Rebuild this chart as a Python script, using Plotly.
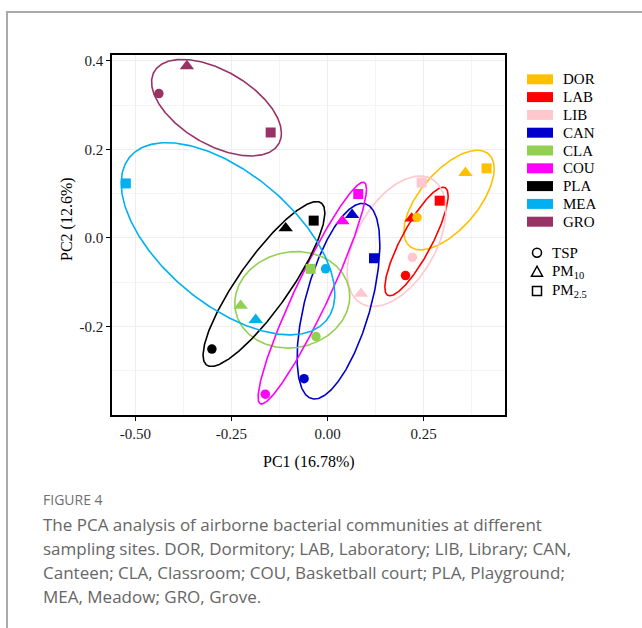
import numpy as np
import plotly.graph_objects as go

# Sampling sites and their colours
sites = ["DOR", "LAB", "LIB", "CAN", "CLA", "COU", "PLA", "MEA", "GRO"]
site_colors = ["#FFC000", "#FF0000", "#FFC7CE", "#0000CC", "#92D050",
               "#FF00FF", "#000000", "#00B0F0", "#993366"]

# Particle size fractions
fractions = ["TSP", "PM10", "PM2.5"]
fraction_labels = ["TSP", "PM<sub>10</sub>", "PM<sub>2.5</sub>"]
fraction_symbols = ["circle", "triangle-up", "square"]

# PCA scores, one row per site, columns TSP / PM10 / PM2.5
pc1 = [
    [0.233, 0.359, 0.414],
    [0.203, 0.219, 0.292],
    [0.221, 0.087, 0.245],
    [-0.061, 0.064, 0.121],
    [-0.030, -0.226, -0.044],
    [-0.162, 0.039, 0.080],
    [-0.301, -0.109, -0.036],
    [-0.005, -0.187, -0.525],
    [-0.439, -0.366, -0.148],
]
pc2 = [
    [0.046, 0.147, 0.157],
    [-0.085, 0.044, 0.084],
    [-0.044, -0.126, 0.125],
    [-0.318, 0.052, -0.046],
    [-0.223, -0.153, -0.070],
    [-0.353, 0.038, 0.099],
    [-0.251, 0.022, 0.039],
    [-0.070, -0.185, 0.123],
    [0.326, 0.388, 0.238],
]

# Confidence ellipses per site (data units): centre, half-extent along PC1 / PC2,
# and the cosine of the phase between the two components (controls the tilt)
ell_cx = [0.3163, 0.2316, 0.1796, 0.0285, -0.0917, -0.0396, -0.1655, -0.259, -0.289]
ell_cy = [0.0854, -0.0082, -0.0076, -0.1430, -0.1399, -0.1248, -0.1042, -0.002, 0.294]
ell_ax = [0.1176, 0.0824, 0.1285, 0.1077, 0.1497, 0.1411, 0.1585, 0.278, 0.169]
ell_ay = [0.1125, 0.1226, 0.1474, 0.2209, 0.1090, 0.2504, 0.1861, 0.217, 0.109]
ell_cos = [0.628, 0.842, 0.473, 0.577, 0.073, 0.938, 0.864, -0.576, -0.53]

x_title = "PC1 (16.78%)"
y_title = "PC2 (12.6%)"
x_tickvals = [-0.50, -0.25, 0.00, 0.25]
x_ticktext = ["-0.50", "-0.25", "0.00", "0.25"]
y_tickvals = [0.4, 0.2, 0.0, -0.2]
y_ticktext = ["0.4", "0.2", "0.0", "-0.2"]

caption_head = "FIGURE 4"
caption_lines = [
    "The PCA analysis of airborne bacterial communities at different",
    "sampling sites. DOR, Dormitory; LAB, Laboratory; LIB, Library; CAN,",
    "Canteen; CLA, Classroom; COU, Basketball court; PLA, Playground;",
    "MEA, Meadow; GRO, Grove.",
]

# ---------------------------------------------------------------- layout geometry
W, H = 642, 628
PL, PR, PT, PB = 112, 505, 55, 415  # plot area edges in pixels
SERIF = "Liberation Serif"
CAP_FONT = "Open Sans"


def px(x):
    return (x - PL) / (PR - PL)


def py(y):
    return (PB - y) / (PB - PT)


fig = go.Figure()

# Ellipses first, then points on top
t = np.linspace(0, 2 * np.pi, 361)
for i, s in enumerate(sites):
    d = np.arccos(ell_cos[i])
    ex = ell_cx[i] + ell_ax[i] * np.cos(t)
    ey = ell_cy[i] + ell_ay[i] * np.cos(t - d)
    fig.add_trace(go.Scatter(x=ex, y=ey, mode="lines",
                             line=dict(color=site_colors[i], width=1.6),
                             hoverinfo="skip", showlegend=False))

marker_sizes = {"circle": 9.5, "triangle-up": 12.5, "square": 10}
for i in reversed(range(len(sites))):
    fig.add_trace(go.Scatter(
        x=pc1[i], y=pc2[i], mode="markers",
        marker=dict(color=site_colors[i], opacity=1,
                    symbol=fraction_symbols,
                    size=[marker_sizes[m] for m in fraction_symbols],
                    line=dict(width=0)),
        text=[f"{sites[i]} {f}" for f in fractions],
        showlegend=False, name=sites[i]))

shapes = []
annotations = []

# Site legend: colour swatches
row0, drow = 79.3, 17.8
for i, s in enumerate(sites):
    yc = row0 + i * drow
    shapes.append(dict(type="rect", xref="paper", yref="paper",
                       x0=px(527), x1=px(553), y0=py(yc + 5), y1=py(yc - 5),
                       fillcolor=site_colors[i], line=dict(width=0)))
    annotations.append(dict(x=px(561), y=py(yc), xref="paper", yref="paper",
                            text=s, showarrow=False, xanchor="left", yanchor="middle",
                            font=dict(family=SERIF, size=15, color="#000000")))

# Fraction legend: open symbols
sym_rows = [252.7, 271.7, 291.0]
cxs = 537
r = 4.5
for k, (lab, sym) in enumerate(zip(fraction_labels, fraction_symbols)):
    yc = sym_rows[k]
    if sym == "circle":
        shapes.append(dict(type="circle", xref="paper", yref="paper",
                           x0=px(cxs - r), x1=px(cxs + r), y0=py(yc + r), y1=py(yc - r),
                           line=dict(color="black", width=1.5)))
    elif sym == "square":
        shapes.append(dict(type="rect", xref="paper", yref="paper",
                           x0=px(cxs - r), x1=px(cxs + r), y0=py(yc + r), y1=py(yc - r),
                           line=dict(color="black", width=1.5)))
    else:
        path = (f"M {px(cxs - 5.5)} {py(yc + 4.5)} L {px(cxs + 5.5)} {py(yc + 4.5)} "
                f"L {px(cxs)} {py(yc - 5.5)} Z")
        shapes.append(dict(type="path", xref="paper", yref="paper", path=path,
                           line=dict(color="black", width=1.5)))
    annotations.append(dict(x=px(550), y=py(yc), xref="paper", yref="paper",
                            text=lab, showarrow=False, xanchor="left", yanchor="middle",
                            font=dict(family=SERIF, size=15, color="#000000")))

# Axis titles
annotations.append(dict(x=px(309), y=py(462), xref="paper", yref="paper", text=x_title,
                        showarrow=False, xanchor="center", yanchor="middle",
                        font=dict(family=SERIF, size=16, color="#000000")))
annotations.append(dict(x=px(67), y=py(219), xref="paper", yref="paper", text=y_title,
                        showarrow=False, xanchor="center", yanchor="middle", textangle=-90,
                        font=dict(family=SERIF, size=16, color="#000000")))

# Caption
annotations.append(dict(x=px(41), y=py(499), xref="paper", yref="paper", text=caption_head,
                        showarrow=False, xanchor="left", yanchor="middle",
                        font=dict(family=CAP_FONT, size=14, color="#707070")))
for k, line in enumerate(caption_lines):
    annotations.append(dict(x=px(41), y=py(524 + 24 * k), xref="paper", yref="paper",
                            text=line, showarrow=False, xanchor="left", yanchor="middle",
                            font=dict(family=CAP_FONT, size=17, color="#666666")))

# Page frame
shapes.append(dict(type="line", xref="paper", yref="paper",
                   x0=px(7), x1=px(7), y0=py(12), y1=py(628), line=dict(color="#AAAAAA", width=2)))
shapes.append(dict(type="line", xref="paper", yref="paper",
                   x0=px(6), x1=px(642), y0=py(12), y1=py(12), line=dict(color="#AAAAAA", width=2)))

axis_common = dict(
    showline=True, mirror=True, linecolor="black", linewidth=1.5,
    ticks="outside", ticklen=4, tickwidth=1, tickcolor="black",
    showgrid=True, gridcolor="#EEEEEE", gridwidth=1, zeroline=False,
    tickfont=dict(family=SERIF, size=15, color="#1A1A1A"),
)

fig.update_layout(
    width=W, height=H, autosize=False,
    margin=dict(l=PL, r=W - PR, t=PT, b=H - PB),
    paper_bgcolor="white", plot_bgcolor="white",
    showlegend=False,
    xaxis=dict(range=[-0.561, 0.462], tickvals=x_tickvals, ticktext=x_ticktext,
               minor=dict(tickvals=[-0.375, -0.125, 0.125, 0.375], showgrid=True,
                          gridcolor="#F4F4F4", ticks=""),
               **axis_common),
    yaxis=dict(range=[-0.4, 0.413], tickvals=y_tickvals, ticktext=y_ticktext,
               minor=dict(tickvals=[0.3, 0.1, -0.1, -0.3], showgrid=True,
                          gridcolor="#F4F4F4", ticks=""),
               **axis_common),
    shapes=shapes, annotations=annotations,
)

fig.write_html("out.html")
